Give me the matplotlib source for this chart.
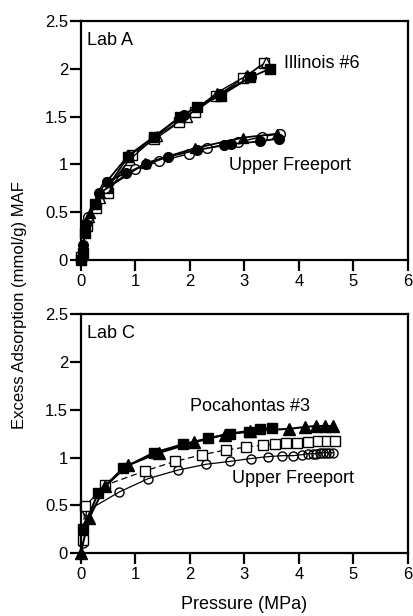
import matplotlib
matplotlib.use("Agg")
import matplotlib.pyplot as plt

plt.rcParams['font.family'] = ['Liberation Sans', 'DejaVu Sans']
plt.rcParams['font.size'] = 12

# ---- Lab A ----
# Illinois #6
ilA_sq_f_x = [0, 0.04, 0.08, 0.26, 0.48, 0.87, 1.35, 1.83, 2.13, 2.57, 3.11, 3.47]
ilA_sq_f_y = [0, 0.07, 0.28, 0.59, 0.75, 1.08, 1.29, 1.50, 1.60, 1.72, 1.91, 2.00]
ilA_sq_o_x = [0, 0.11, 0.29, 0.51, 0.94, 1.35, 1.81, 2.10, 2.48, 2.98, 3.36]
ilA_sq_o_y = [0.03, 0.35, 0.54, 0.70, 1.10, 1.26, 1.44, 1.55, 1.71, 1.90, 2.06]
ilA_tr_o_x = [0.05, 0.15, 0.35, 0.90, 1.40, 1.95, 2.50, 3.05, 3.40]
ilA_tr_o_y = [0.15, 0.45, 0.65, 1.05, 1.30, 1.50, 1.75, 1.93, 2.07]
ilA_ci_f_x = [0.08, 0.48, 0.87, 1.35, 1.89, 2.56, 3.12]
ilA_ci_f_y = [0.38, 0.82, 1.09, 1.29, 1.52, 1.74, 1.91]
# Upper Freeport
ufA_ci_f_x = [0, 0.05, 0.10, 0.33, 0.48, 0.84, 1.20, 1.61, 2.13, 2.63, 2.75, 3.28, 3.63]
ufA_ci_f_y = [0, 0.16, 0.38, 0.70, 0.82, 0.91, 1.00, 1.08, 1.15, 1.20, 1.21, 1.24, 1.27]
ufA_ci_o_x = [0.14, 0.45, 1.00, 1.44, 1.98, 2.31, 2.89, 3.32, 3.66]
ufA_ci_o_y = [0.45, 0.75, 0.95, 1.03, 1.11, 1.17, 1.23, 1.29, 1.32]
ufA_tr_f_x = [0.17, 0.35, 1.18, 2.10, 2.98, 3.60]
ufA_tr_f_y = [0.49, 0.70, 1.01, 1.17, 1.28, 1.32]

# ---- Lab C ----
# Pocahontas #3
pcC_tr_f_x = [0, 0.16, 0.45, 0.87, 1.44, 2.08, 2.64, 3.10, 3.82, 4.11, 4.31, 4.47, 4.63]
pcC_tr_f_y = [0, 0.37, 0.70, 0.92, 1.05, 1.16, 1.24, 1.28, 1.30, 1.32, 1.33, 1.33, 1.33]
pcC_sq_f_x = [0.05, 0.32, 0.78, 1.34, 1.88, 2.34, 2.74, 3.09, 3.28, 3.50]
pcC_sq_f_y = [0.25, 0.63, 0.89, 1.05, 1.14, 1.20, 1.25, 1.27, 1.30, 1.31]
# Upper Freeport
ufC_sq_o_x = [0.04, 0.08, 0.45, 1.18, 1.73, 2.23, 2.67, 3.04, 3.35, 3.56, 3.77, 3.97, 4.17, 4.35, 4.51, 4.66]
ufC_sq_o_y = [0.14, 0.49, 0.71, 0.86, 0.96, 1.03, 1.08, 1.11, 1.13, 1.14, 1.15, 1.15, 1.16, 1.17, 1.17, 1.17]
ufC_ci_o_x = [0.04, 0.11, 0.71, 1.24, 1.79, 2.30, 2.74, 3.12, 3.44, 3.70, 3.90, 4.05, 4.17,
              4.25, 4.32, 4.38, 4.44, 4.50, 4.56, 4.62]
ufC_ci_o_y = [0.11, 0.44, 0.64, 0.78, 0.87, 0.93, 0.96, 0.99, 1.01, 1.02, 1.02, 1.03, 1.04,
              1.04, 1.04, 1.05, 1.05, 1.05, 1.05, 1.05]

xticks = [0, 1, 2, 3, 4, 5, 6]
yticks = [0, 0.5, 1, 1.5, 2, 2.5]
yticklabels = ['0', '0.5', '1', '1.5', '2', '2.5']

fig = plt.figure(figsize=(4.13, 6.16), dpi=100)
axA = fig.add_axes([0.195, 0.578, 0.793, 0.388])
axC = fig.add_axes([0.195, 0.102, 0.793, 0.388])


def style(ax):
    ax.set_xlim(0, 6)
    ax.set_ylim(0, 2.5)
    ax.set_xticks(xticks)
    ax.set_yticks(yticks)
    ax.set_yticklabels(yticklabels)
    for s in ax.spines.values():
        s.set_linewidth(1.6)
    ax.tick_params(direction='out', length=8, width=1.6, pad=1, labelsize=12)
    ax.tick_params(axis='x', pad=2)


kw_f = dict(color='black', lw=1.3, markersize=7)
kw_o = dict(color='black', lw=1.0, markersize=7, markerfacecolor='white')

# Lab A
axA.plot(ilA_sq_o_x, ilA_sq_o_y, marker='s', **kw_o, clip_on=False)
axA.plot(ilA_tr_o_x, ilA_tr_o_y, marker='^', **kw_o, clip_on=False)
axA.plot(ilA_ci_f_x, ilA_ci_f_y, marker='o', **kw_f, clip_on=False)
axA.plot(ilA_sq_f_x, ilA_sq_f_y, marker='s', **kw_f, clip_on=False)
axA.plot(ufA_ci_o_x, ufA_ci_o_y, marker='o', **kw_o, clip_on=False)
axA.plot(ufA_tr_f_x, ufA_tr_f_y, marker='^', **kw_f, clip_on=False)
axA.plot(ufA_ci_f_x, ufA_ci_f_y, marker='o', **kw_f, clip_on=False)
style(axA)
axA.text(0.12, 2.25, 'Lab A', fontsize=13)
axA.text(3.72, 2.05, 'Illinois #6', fontsize=13, va='center')
axA.text(2.72, 0.99, 'Upper Freeport', fontsize=13, va='center')

# Lab C
axC.plot(ufC_ci_o_x, ufC_ci_o_y, marker='o', color='black', lw=0.9,
         markersize=6.5, markerfacecolor='none', clip_on=False)
axC.plot(ufC_sq_o_x, ufC_sq_o_y, marker='s', color='black', lw=0.9, ls=(0, (5, 3)),
         markersize=6.5, markerfacecolor='white', clip_on=False)
axC.plot(pcC_tr_f_x, pcC_tr_f_y, marker='^', color='black', lw=1.5, markersize=8.5, clip_on=False)
axC.plot(pcC_sq_f_x, pcC_sq_f_y, marker='s', color='black', lw=1.5, markersize=7.5, clip_on=False)
style(axC)
axC.text(0.12, 2.25, 'Lab C', fontsize=13)
axC.text(2.0, 1.53, 'Pocahontas #3', fontsize=13, va='center')
axC.text(2.78, 0.78, 'Upper Freeport', fontsize=13, va='center')
axC.set_xlabel('Pressure (MPa)', fontsize=13, labelpad=10)

fig.text(0.048, 0.505, 'Excess Adsorption (mmol/g) MAF', rotation=90,
         fontsize=12, ha='center', va='center')

fig.savefig('out.png', dpi=100)
